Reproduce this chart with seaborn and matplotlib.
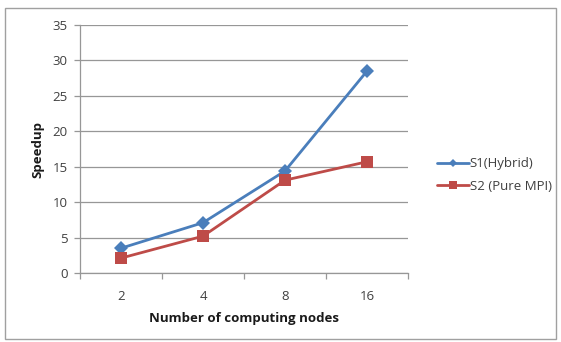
import matplotlib.pyplot as plt
import seaborn as sns
import pandas as pd
import numpy as np
import matplotlib.patches as mpatches
from matplotlib.ticker import FixedLocator

sns.set_theme(style="white")
plt.rcParams['font.family'] = ['Open Sans', 'DejaVu Sans']

nodes = ['2', '4', '8', '16']
s1_hybrid = [3.5, 7.1, 14.4, 28.5]
s2_pure_mpi = [2.1, 5.2, 13.1, 15.7]
series_names = ['S1(Hybrid)', 'S2 (Pure MPI)']

df = pd.DataFrame({
    'nodes': nodes * 2,
    'speedup': s1_hybrid + s2_pure_mpi,
    'series': [series_names[0]] * 4 + [series_names[1]] * 4,
})

fig = plt.figure(figsize=(5.61, 3.42), dpi=100)
ax = fig.add_axes([80 / 561, 1 - 273 / 342, 328 / 561, 248 / 342])

palette = {series_names[0]: '#4A7EBB', series_names[1]: '#BE4B48'}
sns.lineplot(ax=ax, data=df, x='nodes', y='speedup', hue='series', style='series',
             markers={series_names[0]: 'D', series_names[1]: 's'},
             dashes=False, palette=palette, linewidth=2,
             markersize=7, markeredgewidth=0, sort=False)
# bigger square marker
for line in ax.get_lines():
    if line.get_marker() == 's':
        line.set_markersize(9)

ax.set_xlim(-0.5, 3.5)
ax.set_ylim(0, 35)
ax.set_yticks(np.arange(0, 36, 5))
ax.yaxis.grid(True, color='#979797', linewidth=0.9)
ax.set_axisbelow(True)

ax.xaxis.set_minor_locator(FixedLocator(np.arange(-0.5, 4, 1)))
ax.tick_params(axis='x', which='major', length=0, pad=12, labelsize=9.5, colors='#404040')
ax.tick_params(axis='x', which='minor', length=4, width=0.9, color='#979797', bottom=True, direction='out')
ax.tick_params(axis='y', length=4, width=0.9, color='#979797', left=True, direction='out', labelsize=9.5, labelcolor='#404040', pad=5)

for side in ['top', 'right']:
    ax.spines[side].set_visible(False)
for side in ['left', 'bottom']:
    ax.spines[side].set_color('#979797')
    ax.spines[side].set_linewidth(0.9)

ax.set_xlabel('Number of computing nodes', fontsize=9.5, fontweight='bold', color='#1a1a1a', labelpad=7)
ax.set_ylabel('Speedup', fontsize=9.5, fontweight='bold', color='#1a1a1a', labelpad=6)

handles, labels = ax.get_legend_handles_labels()
leg = ax.legend(handles=handles, labels=labels, loc='center left',
                bbox_to_anchor=(425 / 561, 1 - 175 / 342), bbox_transform=fig.transFigure,
                frameon=False, fontsize=9.5, handlelength=2.4, handletextpad=0.1,
                labelspacing=0.7, labelcolor='#404040')
for h in leg.legend_handles:
    if h.get_marker() == 's':
        h.set_markersize(6)
    else:
        h.set_markersize(4.5)

fig.patches.append(mpatches.Rectangle((5 / 561, 1 - 339 / 342), 551 / 561, 331 / 342,
                                      transform=fig.transFigure, fill=False,
                                      edgecolor='#a0a0a0', linewidth=1))

fig.savefig('out.png', dpi=100)
